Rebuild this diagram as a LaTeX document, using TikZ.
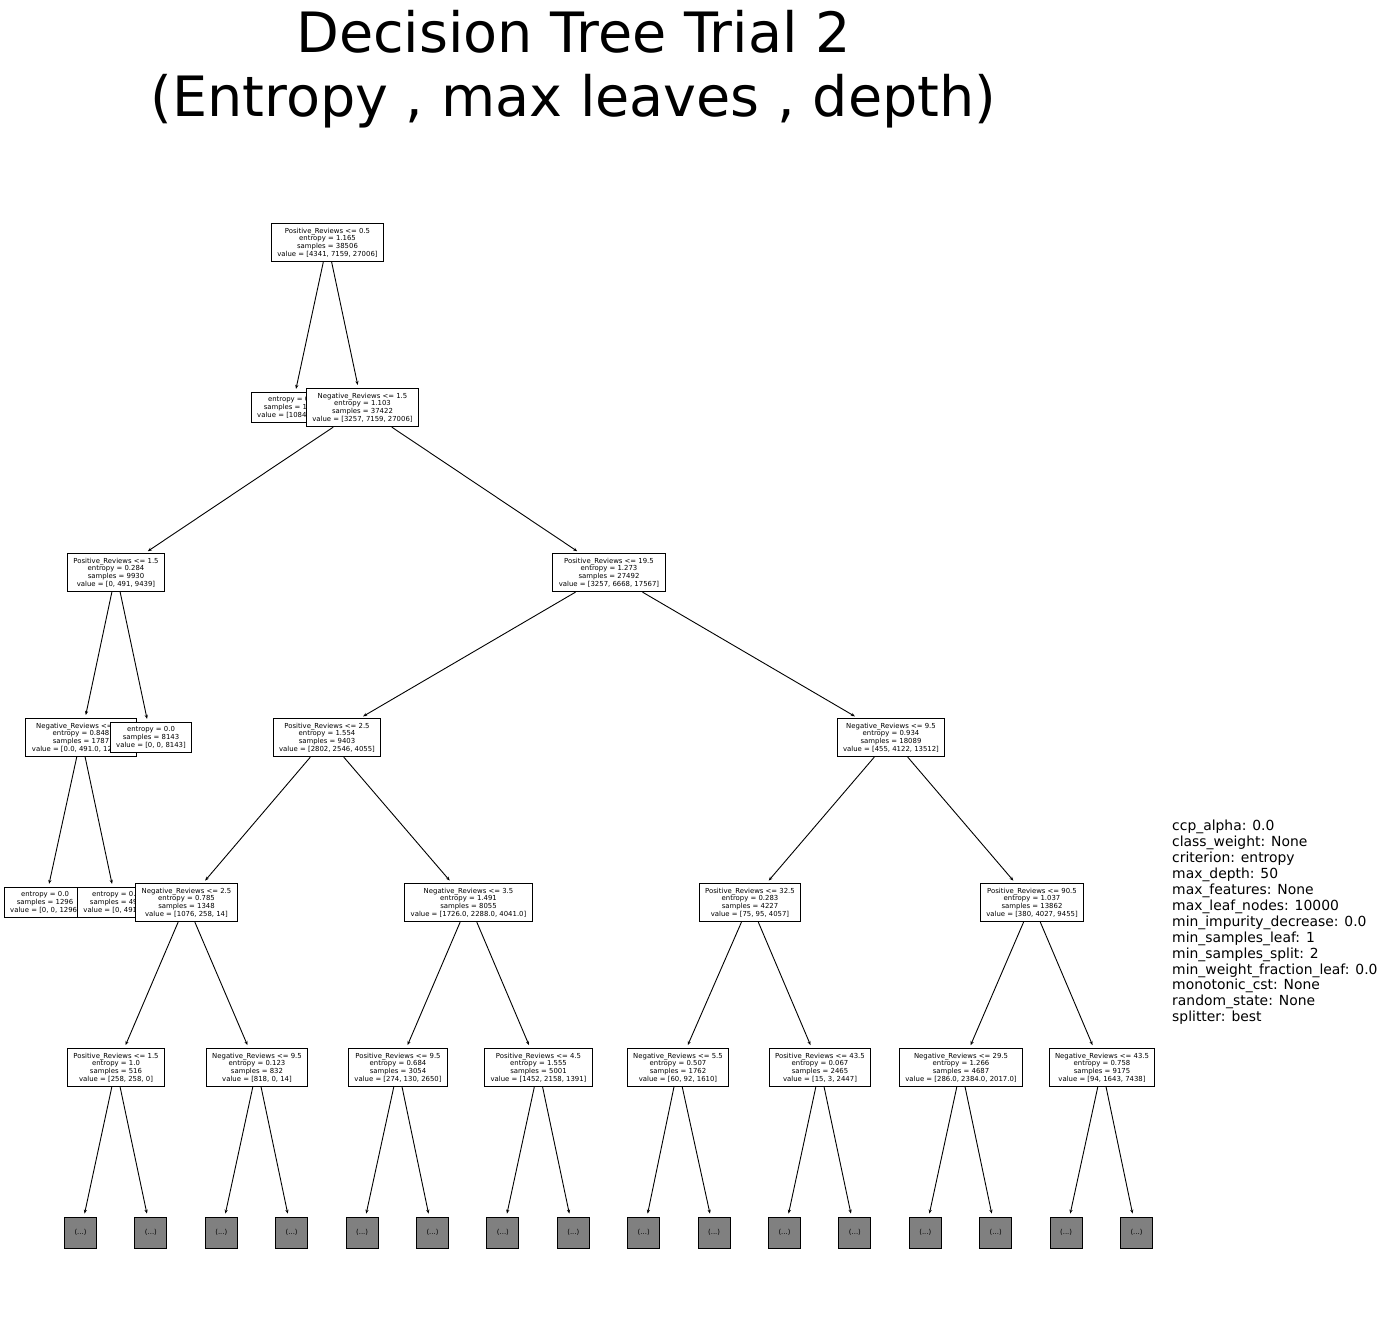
\documentclass[tikz,border=0pt]{standalone}
\usepackage{fontspec}
\setmainfont{DejaVu Sans}
\usetikzlibrary{arrows.meta}

\newcommand{\nodefont}{\fontsize{6.9}{7.7}\selectfont}

\tikzset{
   split/.style={draw, fill=white, line width=1pt, font=\nodefont, align=center,
      inner xsep=6pt, inner ysep=4.5pt},
   more/.style={draw, fill=gray, line width=1pt, font=\nodefont,
      minimum width=32pt, minimum height=31pt, inner sep=0pt},
   edge/.style={-{Stealth[length=4pt,width=3.2pt]}, line width=0.9pt, shorten >=3pt}
}

\begin{document}
\begin{tikzpicture}[x=1pt, y=-1pt]
   \useasboundingbox (0,0) rectangle (1386,1325);

   \node[font=\fontsize{55.6}{64}\selectfont, align=center, anchor=base] (title) at (573.5,116.7)
      {Decision Tree Trial 2\\(Entropy , max leaves , depth)};

   \node[split] (a1) at (327.5,242.5) {Positive\_Reviews <= 0.5\\entropy = 1.165\\samples = 38506\\value = [4341, 7159, 27006]};

   \node[split] (b1) at (292,407.5) {entropy = 0.0\\samples = 1084\\value = [1084, 0, 0]};
   \node[split] (b2) at (362.5,407.5) {Negative\_Reviews <= 1.5\\entropy = 1.103\\samples = 37422\\value = [3257, 7159, 27006]};

   \node[split] (c1) at (116,572.5) {Positive\_Reviews <= 1.5\\entropy = 0.284\\samples = 9930\\value = [0, 491, 9439]};
   \node[split] (c2) at (609,572.5) {Positive\_Reviews <= 19.5\\entropy = 1.273\\samples = 27492\\value = [3257, 6668, 17567]};

   \node[split] (d1) at (81,737.5) {Negative\_Reviews <= 0.5\\entropy = 0.848\\samples = 1787\\value = [0.0, 491.0, 1296.0]};
   \node[split] (d2) at (151,737.5) {entropy = 0.0\\samples = 8143\\value = [0, 0, 8143]};
   \node[split] (d3) at (327,737.5) {Positive\_Reviews <= 2.5\\entropy = 1.554\\samples = 9403\\value = [2802, 2546, 4055]};
   \node[split] (d4) at (891,737.5) {Negative\_Reviews <= 9.5\\entropy = 0.934\\samples = 18089\\value = [455, 4122, 13512]};

   \node[split] (e1) at (45,902.5) {entropy = 0.0\\samples = 1296\\value = [0, 0, 1296]};
   \node[split] (e2) at (116,902.5) {entropy = 0.0\\samples = 491\\value = [0, 491, 0]};
   \node[split] (e3) at (186.5,902.5) {Negative\_Reviews <= 2.5\\entropy = 0.785\\samples = 1348\\value = [1076, 258, 14]};
   \node[split] (e4) at (468.5,902.5) {Negative\_Reviews <= 3.5\\entropy = 1.491\\samples = 8055\\value = [1726.0, 2288.0, 4041.0]};
   \node[split] (e5) at (750,902.5) {Positive\_Reviews <= 32.5\\entropy = 0.283\\samples = 4227\\value = [75, 95, 4057]};
   \node[split] (e6) at (1032,902.5) {Positive\_Reviews <= 90.5\\entropy = 1.037\\samples = 13862\\value = [380, 4027, 9455]};

   \node[split] (f1) at (116,1067.5) {Positive\_Reviews <= 1.5\\entropy = 1.0\\samples = 516\\value = [258, 258, 0]};
   \node[split] (f2) at (257,1067.5) {Negative\_Reviews <= 9.5\\entropy = 0.123\\samples = 832\\value = [818, 0, 14]};
   \node[split] (f3) at (398,1067.5) {Positive\_Reviews <= 9.5\\entropy = 0.684\\samples = 3054\\value = [274, 130, 2650]};
   \node[split] (f4) at (538.5,1067.5) {Positive\_Reviews <= 4.5\\entropy = 1.555\\samples = 5001\\value = [1452, 2158, 1391]};
   \node[split] (f5) at (678,1067.5) {Negative\_Reviews <= 5.5\\entropy = 0.507\\samples = 1762\\value = [60, 92, 1610]};
   \node[split] (f6) at (820,1067.5) {Positive\_Reviews <= 43.5\\entropy = 0.067\\samples = 2465\\value = [15, 3, 2447]};
   \node[split] (f7) at (961,1067.5) {Negative\_Reviews <= 29.5\\entropy = 1.266\\samples = 4687\\value = [286.0, 2384.0, 2017.0]};
   \node[split] (f8) at (1102,1067.5) {Negative\_Reviews <= 43.5\\entropy = 0.758\\samples = 9175\\value = [94, 1643, 7438]};

   \foreach \i in {1,...,16}
      \node[more] (g\i) at ({80.5+70.4*(\i-1)},1232.5) {(...)};

   \draw[edge] (a1) -- (b1);
   \draw[edge] (a1) -- (b2);
   \draw[edge] (b2) -- (c1);
   \draw[edge] (b2) -- (c2);
   \draw[edge] (c1) -- (d1);
   \draw[edge] (c1) -- (d2);
   \draw[edge] (c2) -- (d3);
   \draw[edge] (c2) -- (d4);
   \draw[edge] (d1) -- (e1);
   \draw[edge] (d1) -- (e2);
   \draw[edge] (d3) -- (e3);
   \draw[edge] (d3) -- (e4);
   \draw[edge] (d4) -- (e5);
   \draw[edge] (d4) -- (e6);
   \draw[edge] (e3) -- (f1);
   \draw[edge] (e3) -- (f2);
   \draw[edge] (e4) -- (f3);
   \draw[edge] (e4) -- (f4);
   \draw[edge] (e5) -- (f5);
   \draw[edge] (e5) -- (f6);
   \draw[edge] (e6) -- (f7);
   \draw[edge] (e6) -- (f8);
   \foreach \i in {1,...,8}{
      \pgfmathtruncatemacro\ga{2*\i-1}
      \pgfmathtruncatemacro\gb{2*\i}
      \draw[edge] (f\i) -- (g\ga);
      \draw[edge] (f\i) -- (g\gb);
   }

   \node[font=\fontsize{13.9}{15.9}\selectfont, align=left, anchor=base west, inner sep=0pt] (params) at (1172,1021.7)
      {ccp\_alpha: 0.0\\class\_weight: None\\criterion: entropy\\max\_depth: 50\\max\_features: None\\max\_leaf\_nodes: 10000\\min\_impurity\_decrease: 0.0\\min\_samples\_leaf: 1\\min\_samples\_split: 2\\min\_weight\_fraction\_leaf: 0.0\\monotonic\_cst: None\\random\_state: None\\splitter: best};
\end{tikzpicture}
\end{document}
